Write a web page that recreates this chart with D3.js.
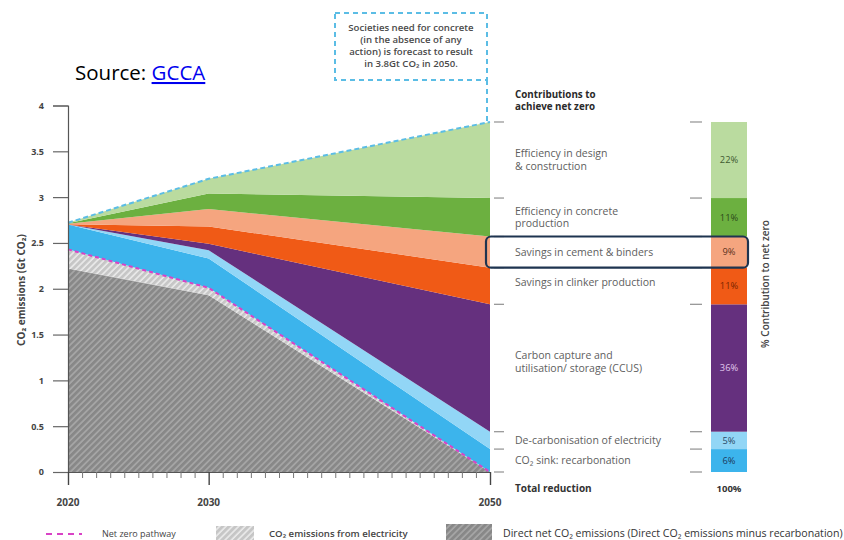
<!DOCTYPE html>
<html>
<head>
<meta charset="utf-8">
<script src="https://cdn.jsdelivr.net/npm/d3@7"></script>
<style>
  html, body { margin: 0; padding: 0; background: #fff; }
  svg { display: block; }
  text { font-family: "Open Sans", "DejaVu Sans", sans-serif; }
</style>
</head>
<body>
<svg id="chart" width="844" height="540"></svg>
<script>
// ---------------- DATA ----------------
const years = [2020, 2030, 2050];
const xTickLabels = [2020, 2030, 2050];
const yTickValues = [0, 0.5, 1, 1.5, 2, 2.5, 3, 3.5, 4];

// stacked series (Gt CO2), bottom to top
const direct            = [2.22, 1.93, 0.00];
const electricity       = [0.21, 0.08, 0.00];
const recarbonation     = [0.27, 0.32, 0.25];
const decarbElectricity = [0.00, 0.09, 0.19];
const ccus              = [0.00, 0.07, 1.39];
const clinker           = [0.005, 0.19, 0.40];
const cement            = [0.005, 0.19, 0.34];
const concreteProd      = [0.005, 0.17, 0.42];
const design            = [0.005, 0.16, 0.83];

const seriesKeys = ["direct", "electricity", "recarbonation", "decarbElectricity",
                    "ccus", "clinker", "cement", "concreteProd", "design"];
const seriesValues = { direct, electricity, recarbonation, decarbElectricity,
                       ccus, clinker, cement, concreteProd, design };

// contributions (reduction wedges) and their labels
const contributionKeys = ["recarbonation", "decarbElectricity", "ccus", "clinker",
                          "cement", "concreteProd", "design"];
const contributionPct = ["6%", "5%", "36%", "11%", "9%", "11%", "22%"];
const contributionLabels = [
  ["CO₂ sink: recarbonation"],
  ["De-carbonisation of electricity"],
  ["Carbon capture and", "utilisation/ storage (CCUS)"],
  ["Savings in clinker production"],
  ["Savings in cement & binders"],
  ["Efficiency in concrete", "production"],
  ["Efficiency in design", "& construction"]
];
const totalLabel = ["Total reduction", "100%"];
const annotationLines = ["Societies need for concrete", "(in the absence of any",
                         "action) is forecast to result", "in 3.8Gt CO₂ in 2050."];
const legendLabels = ["Net zero pathway", "CO₂ emissions from electricity",
  "Direct net CO₂ emissions (Direct CO₂ emissions minus recarbonation)"];

// ---------------- STYLE ----------------
const fills = {
  recarbonation: "#3cb4ec", decarbElectricity: "#92d6f6", ccus: "#65307e",
  clinker: "#f05a16", cement: "#f5a57f", concreteProd: "#6cb040", design: "#badb9f"
};
const pctColors = {
  recarbonation: "#1d3a5c", decarbElectricity: "#2a4a66", ccus: "#e0c8ee",
  clinker: "#7a2500", cement: "#5a3020", concreteProd: "#2c4a1a", design: "#3f5a30"
};

// ---------------- BUILD ----------------
const svg = d3.select("#chart");
const defs = svg.append("defs");

function hatch(id, base, stripe) {
  const p = defs.append("pattern").attr("id", id)
    .attr("patternUnits", "userSpaceOnUse").attr("width", 4.5).attr("height", 4.5)
    .attr("patternTransform", "rotate(45)");
  p.append("rect").attr("width", 4.5).attr("height", 4.5).attr("fill", base);
  p.append("line").attr("x1", 1).attr("x2", 1).attr("y1", 0).attr("y2", 4.5)
    .attr("stroke", stripe).attr("stroke-width", 1.6);
}
hatch("hatchDark", "#888888", "#a8a8a8");
hatch("hatchLight", "#c6c6c6", "#ebebeb");
fills.direct = "url(#hatchDark)";
fills.electricity = "url(#hatchLight)";

const x = d3.scaleLinear().domain([2020, 2050]).range([68, 490]);
const y = d3.scaleLinear().domain([0, 4]).range([472, 105.5]);

const table = years.map((yr, i) => {
  const row = { year: yr };
  seriesKeys.forEach(k => row[k] = seriesValues[k][i]);
  return row;
});
const stack = d3.stack().keys(seriesKeys)(table);
const byKey = {};
stack.forEach(s => byKey[s.key] = s);

const area = d3.area().x(d => x(d.data.year)).y0(d => y(d[0])).y1(d => y(d[1]));

svg.append("g").selectAll("path").data(stack).join("path")
  .attr("d", area).attr("fill", d => fills[d.key]);

// net zero pathway (top of electricity emissions)
const line = d3.line().x(d => x(d.data.year)).y(d => y(d[1]));
svg.append("path").datum(byKey.electricity).attr("d", line)
  .attr("fill", "none").attr("stroke", "#d943c6").attr("stroke-width", 2)
  .attr("stroke-dasharray", "4,3");

// no-action forecast (top of all)
svg.append("path").datum(byKey.design).attr("d", line)
  .attr("fill", "none").attr("stroke", "#5bbde5").attr("stroke-width", 2)
  .attr("stroke-dasharray", "5,3");

// ---- axes ----
const yAxis = d3.axisLeft(y).tickValues(yTickValues).tickSize(15).tickPadding(9)
  .tickFormat(d3.format("~g"));
const gy = svg.append("g").attr("transform", "translate(68,0)").call(yAxis);
gy.select(".domain").attr("stroke", "#555").attr("stroke-width", 1.2);
gy.selectAll(".tick line").attr("stroke", "#666").attr("stroke-width", 1.2);
gy.selectAll(".tick text").attr("fill", "#444").attr("font-size", 9)
  .attr("font-weight", 700);

const allYears = d3.range(2020, 2051);
const xAxis = d3.axisBottom(x).tickValues(allYears).tickSize(6).tickSizeOuter(0)
  .tickFormat("");
const gx = svg.append("g").attr("transform", "translate(0,472)").call(xAxis);
gx.select(".domain").attr("stroke", "#555").attr("stroke-width", 1.2);
gx.selectAll(".tick line").attr("stroke", "#777").attr("stroke-width", 1);
gx.selectAll(".tick").filter(d => xTickLabels.includes(d)).select("line")
  .attr("y2", 13).attr("stroke", "#444").attr("stroke-width", 1.4);
svg.append("g").selectAll("text").data(xTickLabels).join("text")
  .attr("x", d => x(d)).attr("y", 505.5).attr("text-anchor", "middle")
  .attr("font-size", 10).attr("font-weight", 700).attr("fill", "#444")
  .text(d => d);

// y-axis title
svg.append("text").attr("transform", "translate(25,290) rotate(-90)")
  .attr("text-anchor", "middle").attr("font-size", 10).attr("font-weight", 700)
  .attr("fill", "#444").text("CO₂ emissions (Gt CO₂)");

// ---- annotation box ----
const boxX0 = 335, boxX1 = 487;
svg.append("rect").attr("x", boxX0).attr("y", 13).attr("width", boxX1 - boxX0).attr("height", 67)
  .attr("fill", "none").attr("stroke", "#5bbde5").attr("stroke-width", 2)
  .attr("stroke-dasharray", "5,4");
svg.append("line").attr("x1", boxX1).attr("x2", boxX1).attr("y1", 80)
  .attr("y2", y(d3.sum(seriesKeys, k => seriesValues[k][2])))
  .attr("stroke", "#5bbde5").attr("stroke-width", 2).attr("stroke-dasharray", "5,4");
svg.append("g").selectAll("text").data(annotationLines).join("text")
  .attr("x", (boxX0 + boxX1) / 2).attr("y", (d, i) => 30.5 + i * 12)
  .attr("text-anchor", "middle").attr("font-size", 9.6).attr("font-weight", 600)
  .attr("fill", "#4a4a4a").text(d => d);

// ---- source ----
const src = svg.append("text").attr("x", 75).attr("y", 80)
  .attr("font-family", "Arial, 'Liberation Sans', sans-serif").attr("font-size", 20.5)
  .attr("fill", "#000");
src.append("tspan").text("Source: ");
src.append("tspan").attr("fill", "#0000ee").attr("text-decoration", "underline").text("GCCA");

// ---- right-hand contributions ----
svg.append("text").attr("x", 515).attr("y", 98).attr("font-size", 9.8)
  .attr("font-weight", 700).attr("fill", "#2a2a2a").text("Contributions to");
svg.append("text").attr("x", 515).attr("y", 110).attr("font-size", 9.8)
  .attr("font-weight", 700).attr("fill", "#2a2a2a").text("achieve net zero");

const barX0 = 711, barW = 36;
const segs = contributionKeys.map((k, i) => {
  const p = byKey[k][2];
  return { key: k, y0: y(p[0]), y1: y(p[1]), pct: contributionPct[i], lines: contributionLabels[i] };
});

// bar
svg.append("g").selectAll("rect").data(segs).join("rect")
  .attr("x", barX0).attr("width", barW)
  .attr("y", d => d.y1).attr("height", d => d.y0 - d.y1)
  .attr("fill", d => fills[d.key]);
svg.append("g").selectAll("text").data(segs).join("text")
  .attr("x", barX0 + barW / 2).attr("y", d => (d.y0 + d.y1) / 2 + 3.3)
  .attr("text-anchor", "middle").attr("font-size", 9.3)
  .attr("fill", d => pctColors[d.key]).text(d => d.pct);

// boundary tick marks
const bounds = [y(0)].concat(segs.map(d => d.y1));
svg.append("g").selectAll("line").data(bounds).join("line")
  .attr("x1", 494).attr("x2", 504).attr("y1", d => d).attr("y2", d => d)
  .attr("stroke", "#999").attr("stroke-width", 1.3);
svg.append("g").selectAll("line").data(bounds).join("line")
  .attr("x1", 690).attr("x2", 702).attr("y1", d => d).attr("y2", d => d)
  .attr("stroke", "#999").attr("stroke-width", 1.3);

// labels
const lh = 12.5;
segs.forEach(d => {
  const c = (d.y0 + d.y1) / 2 - (d.key === "clinker" ? 4 : 0) - (d.key === "ccus" ? 6 : 0);
  const n = d.lines.length;
  svg.append("g").selectAll("text").data(d.lines).join("text")
    .attr("x", 515).attr("y", (t, i) => c + 3.6 + (i - (n - 1) / 2) * lh)
    .attr("font-size", 10.5).attr("fill", "#5e5e5e").text(t => t);
});

svg.append("text").attr("x", 515).attr("y", 492).attr("font-size", 10)
  .attr("font-weight", 700).attr("fill", "#333").text(totalLabel[0]);
svg.append("text").attr("x", barX0 + barW / 2).attr("y", 492).attr("text-anchor", "middle")
  .attr("font-size", 9.5).attr("font-weight", 700).attr("fill", "#333").text(totalLabel[1]);

// highlight box around "Savings in cement & binders"
const hl = segs.find(d => d.key === "cement");
svg.append("rect").attr("x", 486).attr("y", hl.y1).attr("width", 262)
  .attr("height", hl.y0 - hl.y1).attr("rx", 5)
  .attr("fill", "none").attr("stroke", "#1e3450").attr("stroke-width", 2.2);

// rotated right-hand title
svg.append("text").attr("transform", "translate(769,284) rotate(-90)")
  .attr("text-anchor", "middle").attr("font-size", 10).attr("font-weight", 600)
  .attr("fill", "#444").text("% Contribution to net zero");

// ---- legend ----
const lg = svg.append("g");
lg.append("line").attr("x1", 46).attr("x2", 82).attr("y1", 534).attr("y2", 534)
  .attr("stroke", "#d943c6").attr("stroke-width", 2).attr("stroke-dasharray", "6,5");
lg.append("text").attr("x", 102).attr("y", 537).attr("font-size", 9)
  .attr("fill", "#444").text(legendLabels[0]);
lg.append("rect").attr("x", 216).attr("y", 526).attr("width", 38).attr("height", 15)
  .attr("fill", "url(#hatchLight)");
lg.append("text").attr("x", 269).attr("y", 537).attr("font-size", 9.6)
  .attr("font-weight", 600).attr("fill", "#444").text(legendLabels[1]);
lg.append("rect").attr("x", 446).attr("y", 524).attr("width", 46).attr("height", 17)
  .attr("fill", "url(#hatchDark)");
lg.append("text").attr("x", 503).attr("y", 537).attr("font-size", 10.6)
  .attr("fill", "#333").text(legendLabels[2]);
</script>
</body>
</html>
